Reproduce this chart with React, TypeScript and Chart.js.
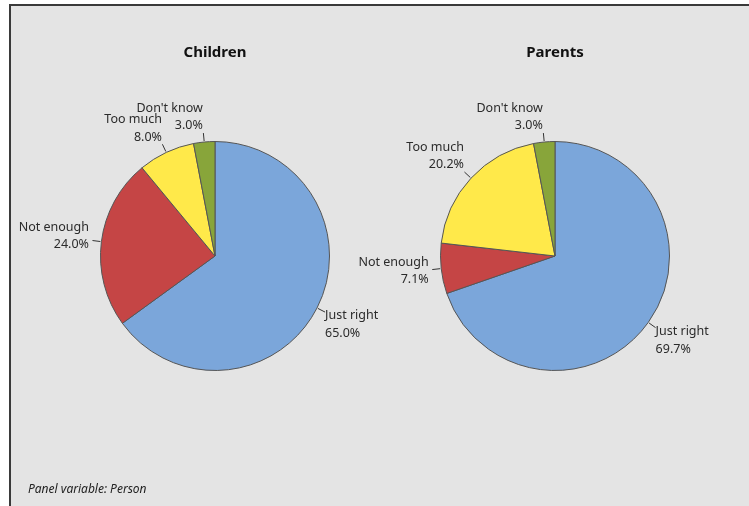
import React, { useEffect, useRef } from "react";
import { Chart, registerables } from "chart.js";

Chart.register(...registerables);

const categories = ["Just right", "Not enough", "Too much", "Don't know"];
const childrenValues = [65.0, 24.0, 8.0, 3.0];
const parentsValues = [69.7, 7.1, 20.2, 3.0];
const panelTitles = ["Children", "Parents"];
const sliceColors = ["#7BA6DA", "#C54545", "#FFE94A", "#88A53A"];
const footnote = "Panel variable: Person";

const FONT = '"Noto Sans", "DejaVu Sans", sans-serif';

const pieLabelPlugin = {
  id: "pieLabels",
  afterDatasetsDraw(chart: any, _args: any, opts: any) {
    const ctx = chart.ctx as CanvasRenderingContext2D;
    const meta = chart.getDatasetMeta(0);
    const values = chart.data.datasets[0].data as number[];
    const labels = chart.data.labels as string[];
    ctx.save();
    let cx = 0;
    meta.data.forEach((arc: any, i: number) => {
      const p = arc.getProps(["x", "y", "startAngle", "endAngle", "outerRadius"], true);
      cx = p.x;
      const mid = (p.startAngle + p.endAngle) / 2;
      const c = Math.cos(mid);
      const s = Math.sin(mid);
      const r = p.outerRadius;
      const x1 = p.x + c * (r + 1);
      const y1 = p.y + s * (r + 1);
      const x2 = p.x + c * (r + 9);
      const y2 = p.y + s * (r + 9);
      ctx.strokeStyle = "#333333";
      ctx.lineWidth = 1;
      ctx.beginPath();
      ctx.moveTo(x1, y1);
      ctx.lineTo(x2, y2);
      ctx.stroke();

      let center: number;
      let tx: number;
      if (s > 0.3) {
        center = y2 + 12.6;
        tx = c > 0 ? x2 : x2 - 0.5;
      } else if (s < -0.3) {
        center = y2 - 16;
        tx = c > 0 ? x2 : x2 - 0.5;
      } else {
        center = y2 + s * 25 - 1.5;
        tx = c > 0 ? x2 + 3.5 : x2 - 3.5;
      }
      ctx.fillStyle = "#2b2b2b";
      ctx.font = `12.5px ${FONT}`;
      ctx.textAlign = c > 0 ? "left" : "right";
      ctx.textBaseline = "middle";
      ctx.fillText(labels[i], tx, center - 8.75);
      ctx.fillText(values[i].toFixed(1) + "%", tx, center + 8.75);
    });
    if (opts && opts.title) {
      ctx.fillStyle = "#111111";
      ctx.font = `bold 15px ${FONT}`;
      ctx.textAlign = "center";
      ctx.textBaseline = "middle";
      ctx.fillText(opts.title, cx, 52.5);
    }
    ctx.restore();
  },
};

function PiePanel(props: {
  values: number[];
  title: string;
  padding: { left: number; right: number; top: number; bottom: number };
}) {
  const ref = useRef<HTMLCanvasElement | null>(null);
  useEffect(() => {
    if (!ref.current) return;
    const chart = new Chart(ref.current, {
      type: "pie",
      data: {
        labels: categories,
        datasets: [
          {
            data: props.values,
            backgroundColor: sliceColors,
            borderColor: "#555555",
            borderWidth: 1,
          },
        ],
      },
      options: {
        responsive: false,
        animation: false,
        devicePixelRatio: 1,
        radius: 114.5,
        layout: { padding: props.padding },
        plugins: {
          legend: { display: false },
          tooltip: { enabled: false },
          pieLabels: { title: props.title },
        } as any,
      } as any,
      plugins: [pieLabelPlugin],
    });
    return () => chart.destroy();
  }, []);
  return (
    <canvas
      ref={ref}
      width={749}
      height={506}
      style={{ position: "absolute", left: 0, top: 0, width: 749, height: 506 }}
    />
  );
}

export default function App() {
  return (
    <div
      style={{
        position: "fixed",
        left: 0,
        top: 0,
        width: 749,
        height: 506,
        background: "#ffffff",
        overflow: "hidden",
      }}
    >
      <div
        style={{
          position: "absolute",
          left: 9,
          top: 4,
          width: 800,
          height: 600,
          background: "#e4e4e4",
          borderLeft: "2px solid #3a3a3a",
          borderTop: "2px solid #3a3a3a",
        }}
      />
      <PiePanel
        values={childrenValues}
        title={panelTitles[0]}
        padding={{ left: 90, right: 409, top: 130, bottom: 124 }}
      />
      <PiePanel
        values={parentsValues}
        title={panelTitles[1]}
        padding={{ left: 430, right: 69, top: 130, bottom: 124 }}
      />
      <div
        style={{
          position: "absolute",
          left: 28,
          top: 480,
          fontFamily: FONT,
          fontStyle: "italic",
          fontSize: 12,
          color: "#222222",
          whiteSpace: "nowrap",
        }}
      >
        {footnote}
      </div>
    </div>
  );
}
